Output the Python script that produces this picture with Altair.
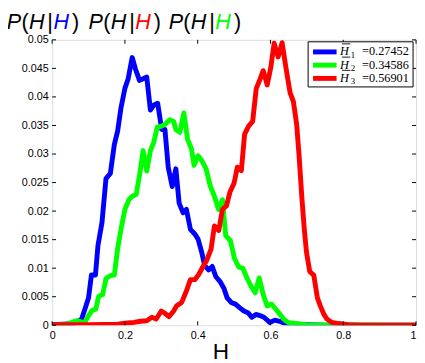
import altair as alt
import pandas as pd

# ---- data ----
blue_h = [0.0, 0.03, 0.06, 0.07, 0.081, 0.09, 0.10, 0.108, 0.119, 0.126, 0.137, 0.148, 0.16, 0.171,
          0.18, 0.189, 0.20, 0.209, 0.22, 0.229, 0.24, 0.25, 0.26, 0.27, 0.28, 0.29, 0.301, 0.31,
          0.319, 0.33, 0.34, 0.349, 0.36, 0.369, 0.38, 0.392, 0.401, 0.411, 0.419, 0.43, 0.44, 0.45,
          0.461, 0.472, 0.481, 0.492, 0.504, 0.515, 0.527, 0.538, 0.549, 0.56, 0.571, 0.582, 0.598,
          0.612, 0.625, 0.64, 0.66, 0.70, 0.75, 1.0]
blue_p = [0.0001, 0.0002, 0.0003, 0.0006, 0.0011, 0.0028, 0.0048, 0.0088, 0.0088, 0.0140, 0.0180,
          0.0257, 0.0266, 0.0317, 0.0340, 0.0380, 0.0415, 0.0432, 0.0469, 0.0449, 0.0429, 0.0432,
          0.0435, 0.0377, 0.0386, 0.0389, 0.0343, 0.0343, 0.0277, 0.0243, 0.0274, 0.0214, 0.0197,
          0.0203, 0.0168, 0.0160, 0.0151, 0.0128, 0.0105, 0.0097, 0.0103, 0.0085, 0.0077, 0.0065,
          0.0048, 0.0040, 0.0037, 0.0031, 0.0025, 0.0022, 0.0014, 0.0019, 0.0017, 0.0014, 0.0005,
          0.0009, 0.0007, 0.0003, 0.0002, 0.0001, 0.0, 0.0]

green_h = [0.0, 0.04, 0.067, 0.08, 0.09, 0.10, 0.11, 0.12, 0.128, 0.139, 0.148, 0.16, 0.171, 0.18,
           0.19, 0.20, 0.211, 0.22, 0.231, 0.241, 0.25, 0.26, 0.27, 0.279, 0.289, 0.301, 0.312,
           0.323, 0.334, 0.34, 0.351, 0.362, 0.372, 0.383, 0.39, 0.401, 0.411, 0.423, 0.435, 0.446,
           0.457, 0.468, 0.477, 0.49, 0.501, 0.513, 0.524, 0.536, 0.547, 0.558, 0.569, 0.58, 0.591,
           0.603, 0.615, 0.625, 0.636, 0.648, 0.67, 0.70, 1.0]
green_p = [0.0, 0.0002, 0.0008, 0.0006, 0.0005, 0.0017, 0.0026, 0.0028, 0.0051, 0.0054, 0.0082,
           0.0087, 0.0088, 0.0134, 0.0171, 0.0203, 0.0220, 0.0226, 0.0229, 0.0266, 0.0306, 0.0270,
           0.0306, 0.0320, 0.0347, 0.0349, 0.0353, 0.0360, 0.0357, 0.0343, 0.0338, 0.0372, 0.0326,
           0.0309, 0.0280, 0.0297, 0.0289, 0.0274, 0.0243, 0.0226, 0.0203, 0.0220, 0.0157, 0.0148,
           0.0117, 0.0102, 0.0100, 0.0082, 0.0068, 0.0057, 0.0083, 0.0054, 0.0034, 0.0037, 0.0028,
           0.0020, 0.0011, 0.0005, 0.0003, 0.0001, 0.0]

red_h = [0.0, 0.10, 0.18, 0.207, 0.225, 0.243, 0.26, 0.274, 0.286, 0.30, 0.31, 0.321, 0.334, 0.342,
         0.356, 0.369, 0.38, 0.392, 0.402, 0.414, 0.425, 0.437, 0.446, 0.458, 0.468, 0.479, 0.489,
         0.50, 0.509, 0.52, 0.529, 0.54, 0.551, 0.561, 0.572, 0.58, 0.591, 0.601, 0.61, 0.621,
         0.632, 0.643, 0.654, 0.663, 0.672, 0.679, 0.686, 0.693, 0.699, 0.708, 0.719, 0.729, 0.737,
         0.747, 0.755, 0.769, 0.787, 0.814, 0.85, 1.0]
red_p = [0.0001, 0.0001, 0.0002, 0.0004, 0.0005, 0.0007, 0.0008, 0.0014, 0.0011, 0.0025, 0.0021,
         0.0015, 0.0025, 0.0034, 0.0040, 0.0060, 0.0080, 0.0080, 0.0088, 0.0102, 0.0114, 0.0134,
         0.0174, 0.0166, 0.0203, 0.0209, 0.0234, 0.0249, 0.0277, 0.0271, 0.0335, 0.0349, 0.0357,
         0.0415, 0.0432, 0.0446, 0.0421, 0.0452, 0.0494, 0.0470, 0.0495, 0.0449, 0.0407, 0.0392,
         0.0352, 0.0294, 0.0226, 0.0168, 0.0128, 0.0094, 0.0088, 0.0048, 0.0034, 0.0019, 0.0011,
         0.0005, 0.0003, 0.0001, 0.0, 0.0]

series_names = ["H1", "H2", "H3"]
series_subscripts = ["1", "2", "3"]
series_means = ["0.27452", "0.34586", "0.56901"]
series_colors = ["#0000ff", "#00ff00", "#ff0000"]
x_ticks = [0, 0.2, 0.4, 0.6, 0.8, 1.0]
y_ticks = [0, 0.005, 0.01, 0.015, 0.02, 0.025, 0.03, 0.035, 0.04, 0.045, 0.05]

W, HGT = 371, 291
FONT = "Liberation Sans"
SERIF = "Liberation Serif"

x_axis = alt.Axis(values=x_ticks, format="~g", title=None, domain=False, ticks=False, grid=False,
                  labelFontSize=11, labelFont=FONT, labelColor="black", labelPadding=4,
                  labelFlush=False,
                  labelAlign={"condition": {"test": "datum.value >= 1", "value": "right"},
                              "value": "center"})
y_axis = alt.Axis(values=y_ticks, format="~g", title=None, domain=False, ticks=False, grid=False,
                  labelFontSize=11, labelFont=FONT, labelColor="black", labelPadding=4,
                  labelFlush=False)
x_scale = alt.Scale(domain=[0, 1], nice=False)
y_scale = alt.Scale(domain=[0, 0.05], nice=False)

x_enc = alt.X("H:Q", scale=x_scale, axis=x_axis)
y_enc = alt.Y("P:Q", scale=y_scale, axis=y_axis)
color_enc = alt.Color("series:N", scale=alt.Scale(domain=series_names, range=series_colors),
                      legend=None)

layers = []
for hs, ps, name in zip([blue_h, green_h, red_h], [blue_p, green_p, red_p], series_names):
    df = pd.DataFrame({"H": hs, "P": ps, "series": name})
    layers.append(
        alt.Chart(df).mark_line(strokeWidth=5, strokeJoin="round", clip=True)
        .encode(x=x_enc, y=y_enc, color=color_enc)
    )

# inward ticks (MATLAB style box) - same fields/axes as the lines so the axes merge
xt = pd.DataFrame({"H": x_ticks})
yt = pd.DataFrame({"P": y_ticks})
tick_style = dict(color="black", strokeWidth=1)
layers.append(alt.Chart(xt).mark_rule(**tick_style).encode(
    x=x_enc, y=alt.value(HGT), y2=alt.value(HGT - 4)))
layers.append(alt.Chart(xt).mark_rule(**tick_style).encode(
    x=x_enc, y=alt.value(0), y2=alt.value(4)))
layers.append(alt.Chart(yt).mark_rule(**tick_style).encode(
    y=y_enc, x=alt.value(0), x2=alt.value(4)))
layers.append(alt.Chart(yt).mark_rule(**tick_style).encode(
    y=y_enc, x=alt.value(W), x2=alt.value(W - 4)))

one = alt.Data(values=[{"a": 1}])


def txt_layer(text, x, y, size, font=FONT, style="normal", color="black", align="left"):
    return (alt.Chart(one)
            .mark_text(text=text, font=font, fontSize=size, fontStyle=style, align=align,
                       baseline="alphabetic", color=color)
            .encode(x=alt.value(x), y=alt.value(y)))


# multicoloured title  P(H|H) P(H|H) P(H|H)
group_starts = [8.3 - 53, 91.7 - 53, 173.3 - 53]
title_colors = ["#0000ff", "#ff0000", "#00ff00"]
for g, col in zip(group_starts, title_colors):
    pieces = [("P", -1.5, "italic", "black"), ("(", 13.4, "normal", "black"),
              ("H", 21.0, "italic", "black"), ("|", 39.8, "normal", "black"),
              ("H", 46.0, "italic", col), (")", 65.0, "normal", "black")]
    for t, dx, style, c in pieces:
        layers.append(txt_layer(t, g + dx, -11, 22, style=style, color=c))

# x-axis title
layers.append(txt_layer("H", 172, 325, 23, align="center"))

# legend box (MATLAB style)
layers.append(
    alt.Chart(one).mark_rect(fill="white", stroke="black", strokeWidth=1)
    .encode(x=alt.value(261), x2=alt.value(368), y=alt.value(2), y2=alt.value(48))
)
rows = [12.3, 25.8, 39.3]
for ry, col, sub, mean in zip(rows, series_colors, series_subscripts, series_means):
    layers.append(
        alt.Chart(one).mark_rule(color=col, strokeWidth=5)
        .encode(x=alt.value(266), x2=alt.value(290), y=alt.value(ry))
    )
    layers.append(txt_layer("H", 293.5, ry + 3.6, 12.5, font=SERIF, style="italic"))
    layers.append(
        alt.Chart(one).mark_rule(color="black", strokeWidth=0.9)
        .encode(x=alt.value(295.5), x2=alt.value(304), y=alt.value(ry - 8.2))
    )
    layers.append(txt_layer(sub, 304.5, ry + 6.0, 9, font=SERIF))
    layers.append(txt_layer("=" + mean, 316, ry + 3.6, 12.5, font=SERIF))

chart = alt.layer(*layers).properties(
    width=W, height=HGT,
    autosize=alt.AutoSizeParams(type="none"),
    padding={"left": 45, "top": 29, "right": 1, "bottom": 35},
).configure_view(stroke="black", strokeWidth=1).configure(background="white")

chart.save("out.html", embed_options={"renderer": "svg", "actions": False})
